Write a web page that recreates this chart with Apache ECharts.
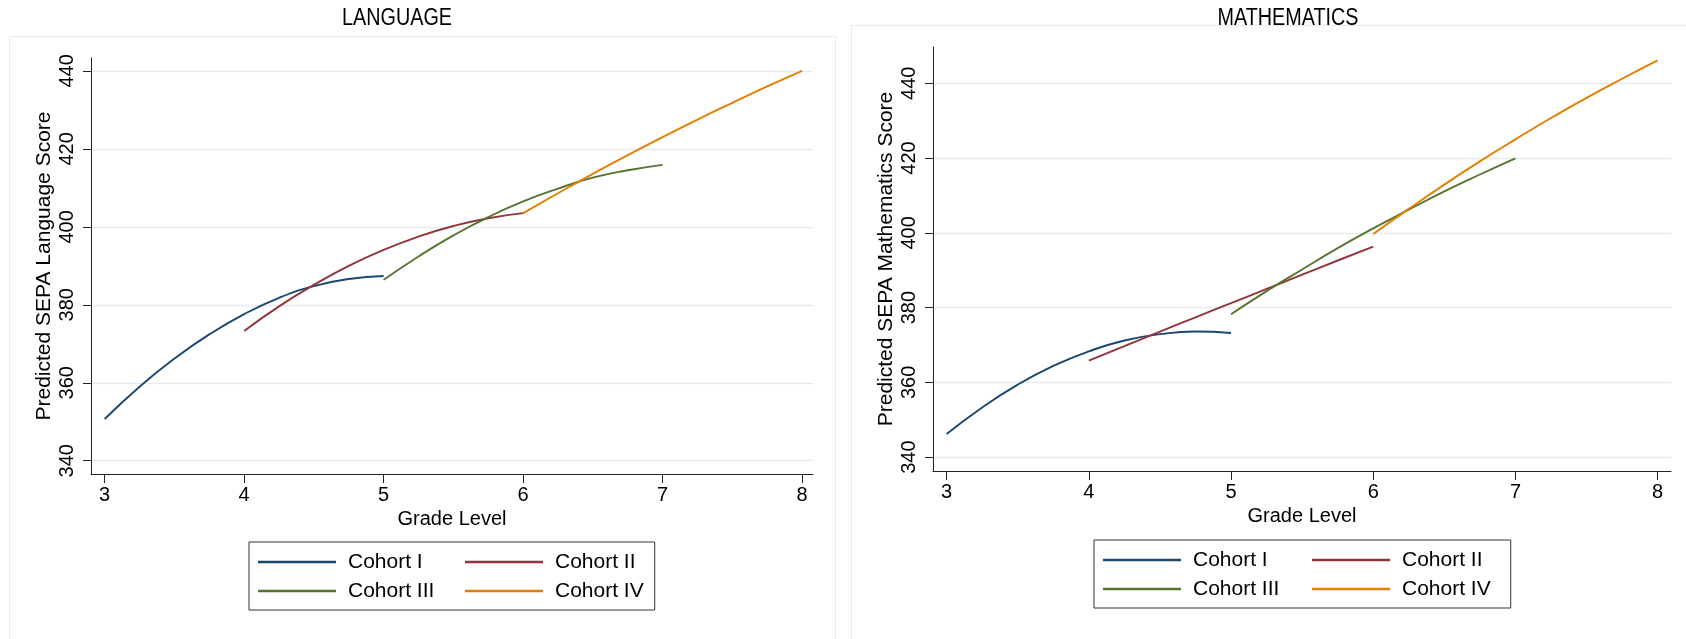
<!DOCTYPE html>
<html>
<head>
<meta charset="utf-8">
<script src="https://cdn.jsdelivr.net/npm/echarts@6/dist/echarts.min.js"></script>
<style>
html,body{margin:0;padding:0;background:#fff;}
#chart{width:1686px;height:639px;}
</style>
</head>
<body>
<div id="chart"></div>
<script>
// ---- data ----
const panelTitles = ['LANGUAGE', 'MATHEMATICS'];
const yTitles = ['Predicted SEPA Language Score', 'Predicted SEPA Mathematics Score'];
const xTitle = 'Grade Level';
const cohorts = ['Cohort I', 'Cohort II', 'Cohort III', 'Cohort IV'];
const gradeTicks = [3, 4, 5, 6, 7, 8];
const scoreTicks = [340, 360, 380, 400, 420, 440];

const gradesI   = [3.00, 3.25, 3.50, 3.75, 4.00, 4.25, 4.50, 4.75, 5.00];
const gradesII  = [4.00, 4.25, 4.50, 4.75, 5.00, 5.25, 5.50, 5.75, 6.00];
const gradesIII = [5.00, 5.25, 5.50, 5.75, 6.00, 6.25, 6.50, 6.75, 7.00];
const gradesIV  = [6.00, 6.25, 6.50, 6.75, 7.00, 7.25, 7.50, 7.75, 8.00];

const langI   = [350.7, 359.0, 366.2, 372.4, 377.6, 381.8, 384.8, 386.6, 387.4];
const langII  = [373.3, 379.6, 385.1, 390.0, 394.1, 397.5, 400.2, 402.2, 403.5];
const langIII = [386.4, 392.4, 397.8, 402.5, 406.5, 409.8, 412.6, 414.5, 415.9];
const langIV  = [403.5, 408.6, 413.6, 418.4, 423.0, 427.5, 431.8, 436.0, 440.0];

const mathI   = [346.2, 353.3, 359.4, 364.4, 368.3, 371.2, 372.9, 373.6, 373.2];
const mathII  = [365.8, 369.7, 373.6, 377.4, 381.2, 385.0, 388.8, 392.6, 396.3];
const mathIII = [378.2, 384.4, 390.2, 395.9, 401.2, 406.2, 411.1, 415.6, 419.9];
const mathIV  = [399.7, 406.4, 412.9, 419.1, 425.0, 430.7, 436.1, 441.2, 446.1];

// ---- styling ----
const colors = ['#1a476f', '#90353b', '#55752f', '#e37e00'];
const FONT = '"Liberation Sans", Arial, Helvetica, sans-serif';

const gradeSets = [gradesI, gradesII, gradesIII, gradesIV];
const panels = [[langI, langII, langIII, langIV], [mathI, mathII, mathIII, mathIV]];

function pairs(xs, ys) { return xs.map((x, i) => [x, ys[i]]); }

const grids = [
  { left: 91, top: 58, width: 722, height: 416 },
  { left: 933, top: 47, width: 738, height: 424 }
];
const xRanges = [[2.902, 8.078], [2.904, 8.094]];
const yRanges = [[336.6, 443.3], [336.3, 449.7]];

const xAxes = [0, 1].map(i => ({
  type: 'value', gridIndex: i, min: xRanges[i][0], max: xRanges[i][1],
  name: xTitle, nameLocation: 'middle', nameGap: 32,
  nameTextStyle: { fontFamily: FONT, fontSize: 20, color: '#000' },
  axisLine: { show: true, onZero: false, lineStyle: { color: '#222', width: 1 } },
  axisTick: { show: true, length: 9, customValues: gradeTicks, lineStyle: { color: '#222', width: 1 } },
  axisLabel: { customValues: gradeTicks, margin: 11, fontFamily: FONT, fontSize: 20, color: '#000' },
  splitLine: { show: false }
}));

const yAxes = [0, 1].map(i => ({
  type: 'value', gridIndex: i, min: yRanges[i][0], max: yRanges[i][1],
  name: yTitles[i], nameLocation: 'middle', nameGap: 36,
  nameTextStyle: { fontFamily: FONT, fontSize: 21, color: '#000' },
  axisLine: { show: true, onZero: false, lineStyle: { color: '#222', width: 1 } },
  axisTick: { show: true, length: 8, customValues: scoreTicks, lineStyle: { color: '#222', width: 1 } },
  axisLabel: { customValues: scoreTicks, rotate: 90, margin: 14, fontFamily: FONT, fontSize: 20, color: '#000' },
  splitLine: { show: true, lineStyle: { color: '#e4ecf0', width: 1.3 } }
}));

const series = [];
[0, 1].forEach(p => {
  cohorts.forEach((name, c) => {
    series.push({
      type: 'line', name: name, xAxisIndex: p, yAxisIndex: p,
      data: pairs(gradeSets[c], panels[p][c]),
      smooth: true, showSymbol: false, symbol: 'none',
      lineStyle: { color: colors[c], width: 1.9 },
      itemStyle: { color: colors[c] },
      z: 3
    });
  });
});

function makeLegend(left, top, col1TextW, padRight) {
  return {
    left: left, top: top, orient: 'horizontal', width: 410,
    icon: 'rect', itemWidth: 78, itemHeight: 2.5, itemGap: 5,
    padding: [8, padRight, 7, 9],
    borderColor: '#333', borderWidth: 1, borderRadius: 0,
    selectedMode: false,
    data: cohorts,
    formatter: function (n) {
      const idx = cohorts.indexOf(n);
      return idx % 2 === 0 ? '{s|}{a|' + n + '}' : '{s|}{b|' + n + '}';
    },
    textStyle: {
      fontFamily: FONT, fontSize: 21, color: '#000', lineHeight: 24,
      rich: {
        s: { width: 7 },
        a: { width: col1TextW, fontFamily: FONT, fontSize: 21, color: '#000', lineHeight: 24 },
        b: { fontFamily: FONT, fontSize: 21, color: '#000', lineHeight: 24 }
      }
    }
  };
}

const option = {
  backgroundColor: '#ffffff',
  animation: false,
  grid: grids,
  xAxis: xAxes,
  yAxis: yAxes,
  legend: [makeLegend(249, 542, 112, 11), makeLegend(1094, 540, 114, 20)],
  series: series,
  graphic: [
    { type: 'rect', shape: { x: 9.5, y: 36.5, width: 826, height: 640 }, style: { fill: null, stroke: '#e6edf0', lineWidth: 1 }, z: -1, silent: true },
    { type: 'rect', shape: { x: 851.5, y: 25.5, width: 860, height: 650 }, style: { fill: null, stroke: '#e6edf0', lineWidth: 1 }, z: -1, silent: true },
    { type: 'text', x: 397, y: 19, scaleX: 0.86, style: { text: panelTitles[0], font: '23px ' + FONT, fill: '#000', align: 'center', verticalAlign: 'middle' } },
    { type: 'text', x: 1288, y: 19, scaleX: 0.86, style: { text: panelTitles[1], font: '23px ' + FONT, fill: '#000', align: 'center', verticalAlign: 'middle' } }
  ]
};

const chart = echarts.init(document.getElementById('chart'), null, { renderer: 'canvas' });
chart.setOption(option);
</script>
</body>
</html>
